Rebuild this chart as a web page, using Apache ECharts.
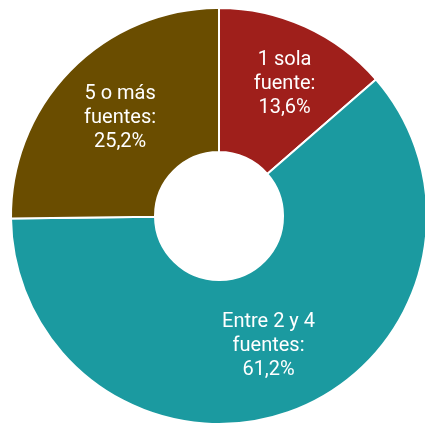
<!DOCTYPE html>
<html>
<head>
<meta charset="utf-8">
<script src="https://cdn.jsdelivr.net/npm/echarts@6/dist/echarts.min.js"></script>
<style>
  html, body { margin: 0; padding: 0; background: #fff; }
  #chart { width: 425px; height: 424px; }
</style>
</head>
<body>
<div id="chart"></div>
<script>
var categories = ['1 sola\nfuente:', 'Entre 2 y 4\nfuentes:', '5 o más\nfuentes:'];
var values = [13.6, 61.2, 25.2];
var colors = ['#9f1f1b', '#1b9aa0', '#6a4d00'];

var chart = echarts.init(document.getElementById('chart'));

var data = categories.map(function (name, i) {
  var item = { name: name, value: values[i], itemStyle: { color: colors[i] } };
  if (i === 0) item.label = { offset: [8, -5] };
  return item;
});

chart.setOption({
  animation: false,
  series: [{
    type: 'pie',
    center: [219, 216],
    radius: [64, 208],
    startAngle: 90,
    clockwise: true,
    itemStyle: { borderColor: '#fff', borderWidth: 2 },
    label: {
      show: true,
      position: 'inside',
      color: '#fff',
      fontFamily: 'Roboto',
      fontSize: 20,
      lineHeight: 24,
      formatter: function (p) {
        return p.name + '\n' + p.value.toFixed(1).replace('.', ',') + '%';
      }
    },
    labelLine: { show: false },
    emphasis: { disabled: true },
    data: data
  }]
});
</script>
</body>
</html>
